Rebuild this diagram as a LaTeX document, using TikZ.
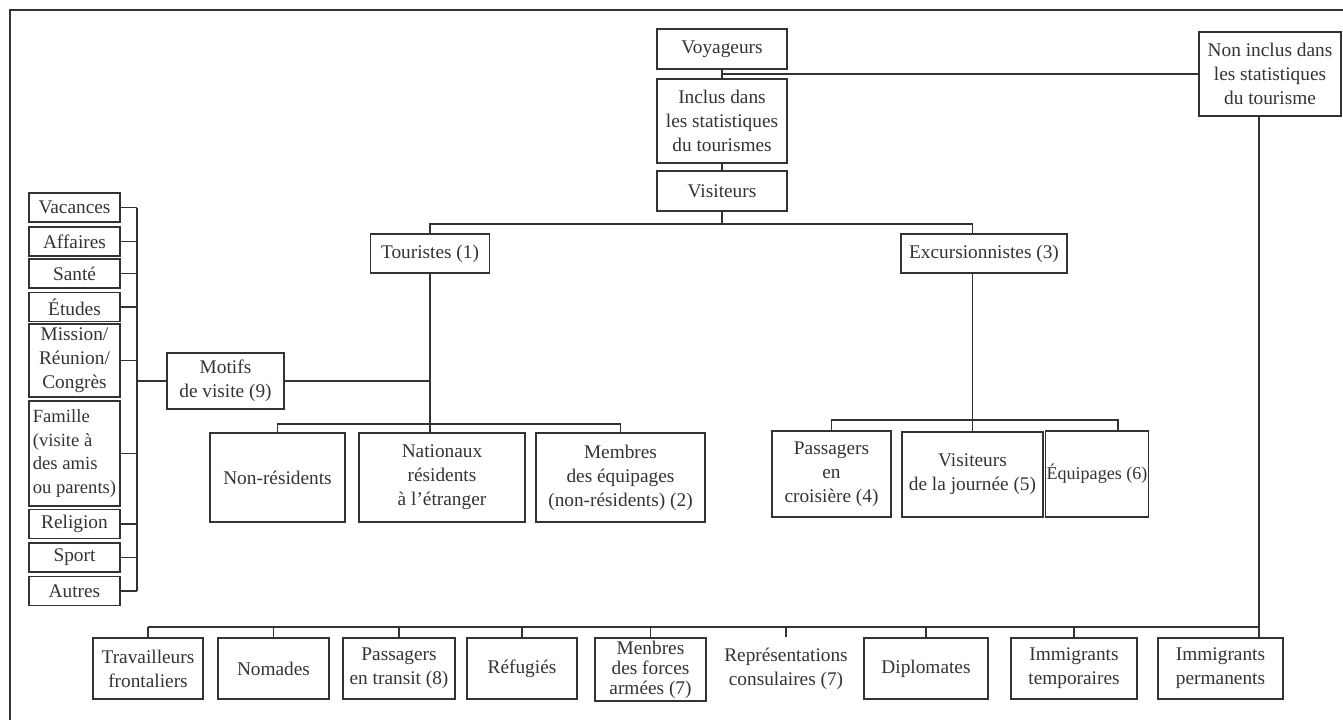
\documentclass[tikz,border=0pt]{standalone}
\usepackage{fontspec}
\setmainfont{Liberation Serif}
\usetikzlibrary{positioning}
\begin{document}
\begin{tikzpicture}[x=0.02cm, y=-0.02cm, line width=0.8pt, color=black!80,
    box/.style = {draw, align=center, inner sep=1pt, font=\fontsize{11}{13.6}\selectfont},
    motif/.style = {box, minimum width=1.82cm, minimum height=0.58cm},
    low/.style = {box, minimum height=1.22cm}]
  \useasboundingbox (0,0) rectangle (1343,720);
  \draw (10,720) -- (10,10) -- (1343,10);
  % haut
  \node[box, minimum width=2.6cm, minimum height=0.8cm] (voy) at (722,49) {Voyageurs};
  \node[box, minimum width=2.6cm, minimum height=1.68cm] (incl) at (722,121) {Inclus dans\\les statistiques\\du tourismes};
  \node[box, minimum width=2.6cm, minimum height=0.8cm] (vis) at (722,191) {Visiteurs};
  \node[box, minimum width=2.84cm, minimum height=1.68cm] (nonincl) at (1270,74) {Non inclus dans\\les statistiques\\du tourisme};
  \node[box, minimum width=2.38cm, minimum height=0.78cm] (tour) at (430,253.5) {Touristes (1)};
  \node[box, minimum width=3.32cm, minimum height=0.78cm] (excu) at (984,253.5) {Excursionnistes (3)};
  \node[box, minimum width=2.34cm, minimum height=1.12cm] (motifs) at (225.5,381) {Motifs\\de visite (9)};
  % touristes
  \node[box, minimum width=2.7cm, minimum height=1.78cm] (nonres) at (277.5,477.5) {Non-résidents};
  \node[box, minimum width=3.32cm, minimum height=1.78cm] (natio) at (442,477.5) {Nationaux\\résidents\\à l'étranger};
  \node[box, minimum width=3.38cm, minimum height=1.78cm] (membeq) at (620.5,477.5) {Membres\\des équipages\\(non-résidents) (2)};
  % excursionnistes
  \node[box, minimum width=2.38cm, minimum height=1.72cm] (passcr) at (831.5,474) {Passagers\\en\\croisière (4)};
  \node[box, minimum width=2.82cm, minimum height=1.7cm] (visj) at (972.5,474.5) {Visiteurs\\de la journée (5)};
  \node[box, minimum width=1.9cm, minimum height=1.72cm, inner sep=0.5pt, font=\fontsize{10.3}{12}\selectfont] (equip) at (1097,474) {Équipages (6)};
  % motifs
  \node[motif] (vac) at (74.5,207.5) {Vacances};
  \node[motif] (aff) at (74.5,241.5) {Affaires};
  \node[motif] (san) at (74.5,273.5) {Santé};
  \node[motif] (etu) at (74.5,307) {Études};
  \node[motif, minimum height=1.46cm] (mis) at (74.5,360.5) {Mission/\\Réunion/\\Congrès};
  \node[motif, minimum height=2.1cm, align=left, font=\fontsize{10.6}{13.6}\selectfont] (fam) at (74.5,453.5) {Famille\\(visite à\\des amis\\ou parents)};
  \node[motif] (rel) at (74.5,524) {Religion};
  \node[motif] (spo) at (74.5,557.5) {Sport};
  \node[motif] (aut) at (74.5,591) {Autres};
  % non inclus
  \node[low, minimum width=2.2cm] (trav) at (148,668.5) {Travailleurs\\frontaliers};
  \node[low, minimum width=2.22cm] (nom) at (273.5,668.5) {Nomades};
  \node[low, minimum width=2.24cm] (trans) at (399,668.5) {Passagers\\en transit (8)};
  \node[low, minimum width=2.2cm] (ref) at (522,668.5) {Réfugiés};
  \node[low, minimum width=2.22cm, minimum height=1.26cm, font=\fontsize{11}{11.4}\selectfont] (forc) at (650.5,669.5) {Menbres\\des forces\\armées (7)};
  \node[low, draw=none] (cons) at (786,668.5) {Représentations\\consulaires (7)};
  \node[low, minimum width=2.48cm] (dipl) at (926,668.5) {Diplomates};
  \node[low, minimum width=2.52cm] (immt) at (1074,668.5) {Immigrants\\temporaires};
  \node[low, minimum width=2.5cm] (immp) at (1220.5,668.5) {Immigrants\\permanents};
  \coordinate (vbus) at (722,224);
  \coordinate (tbus) at (0,424);
  \coordinate (ebus) at (0,420);
  \coordinate (eqx) at (1118,0);
  \coordinate (brk) at (137,0);
  \coordinate (bbus) at (148,627);
  \coordinate (nx) at (1259,0);
  \draw (voy) -- (incl);
  \draw (incl) -- (vis);
  \draw (nonincl.west) -- (nonincl.west -| voy.south);
  \draw (vis.south) -- (vbus);
  \draw (tour.north) -- (tour.north |- vbus) -- (vbus -| visj.north) -- (excu.north -| visj.north);
  \draw (tour.south) -- (tour.south |- natio.north);
  \draw (motifs.east) -- (motifs.east -| tour.south);
  \draw (nonres.north) -- (nonres.north |- tbus) -- (tbus -| membeq.north) -- (membeq.north);
  \draw (excu.south -| visj.north) -- (visj.north);
  \draw (passcr.north) -- (passcr.north |- ebus) -- (ebus -| eqx) -- (equip.north -| eqx);
  \foreach \n in {vac,aff,san,etu,mis,fam,rel,spo,aut}
    \draw (\n.east) -- (\n.east -| brk);
  \draw (vac.east -| brk) -- (aut.east -| brk);
  \draw (motifs.west) -- (motifs.west -| brk);
  \draw (nonincl.south -| nx) -- (immp.north -| nx);
  \draw (bbus) -- (bbus -| nx);
  \foreach \n in {trav,nom,trans,ref,forc,cons,dipl,immt}
    \draw (\n.north) -- (\n.north |- bbus);
\end{tikzpicture}
\end{document}
